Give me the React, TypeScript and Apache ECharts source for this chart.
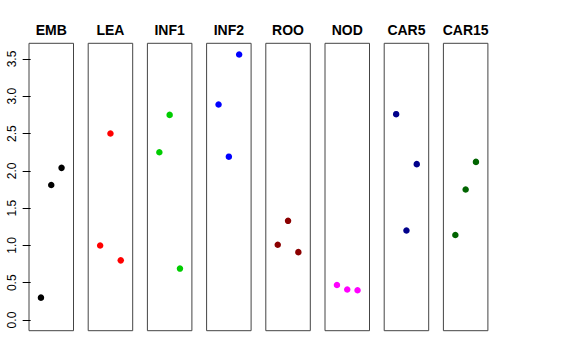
import React, { useEffect, useRef } from "react";
import * as echarts from "echarts";

const panelNames = ["EMB", "LEA", "INF1", "INF2", "ROO", "NOD", "CAR5", "CAR15"];
const xPositions = [1, 2, 3];
const embValues = [0.30, 1.81, 2.04];
const leaValues = [1.00, 2.50, 0.80];
const inf1Values = [2.25, 2.75, 0.69];
const inf2Values = [2.89, 2.19, 3.56];
const rooValues = [1.01, 1.33, 0.91];
const nodValues = [0.47, 0.41, 0.40];
const car5Values = [2.76, 1.20, 2.09];
const car15Values = [1.14, 1.75, 2.12];
const panelValues = [embValues, leaValues, inf1Values, inf2Values, rooValues, nodValues, car5Values, car15Values];
const panelColors = ["#000000", "#FF0000", "#00CD00", "#0000FF", "#8B0000", "#FF00FF", "#00008B", "#006400"];
const yTickValues = [0, 0.5, 1, 1.5, 2, 2.5, 3, 3.5];

export default function App() {
  const ref = useRef<HTMLDivElement>(null);
  useEffect(() => {
    if (!ref.current) return;
    const chart = echarts.init(ref.current, null, { renderer: "svg" });
    const left0 = 29;
    const step = 59.2;
    const pw = 44.5;
    const top = 43.3;
    const ph = 287.4;
    const yMin = -0.143;
    const yMax = 3.71;
    const grids: any[] = [];
    const xAxes: any[] = [];
    const yAxes: any[] = [];
    const series: any[] = [];
    const graphics: any[] = [];
    panelNames.forEach((name, i) => {
      const left = left0 + step * i;
      grids.push({
        left,
        top,
        width: pw,
        height: ph,
        show: true,
        borderColor: "#444",
        borderWidth: 1,
        backgroundColor: "transparent",
      });
      xAxes.push({
        type: "value",
        gridIndex: i,
        min: -0.16,
        max: 4.16,
        show: false,
      });
      yAxes.push({
        type: "value",
        gridIndex: i,
        min: yMin,
        max: yMax,
        show: i === 0,
        axisLine: { show: false },
        splitLine: { show: false },
        axisTick: {
          show: true,
          length: 8,
          lineStyle: { color: "#000", width: 1 },
          customValues: yTickValues,
        },
        axisLabel: {
          show: true,
          rotate: 90,
          margin: 11,
          fontSize: 12,
          fontFamily: "Liberation Sans",
          color: "#000",
          customValues: yTickValues,
          formatter: (v: number) => v.toFixed(1),
        },
      });
      series.push({
        type: "scatter",
        xAxisIndex: i,
        yAxisIndex: i,
        symbol: "circle",
        symbolSize: 6.5,
        itemStyle: { color: panelColors[i], opacity: 1 },
        data: xPositions.map((x, j) => [x, panelValues[i][j]]),
      });
      graphics.push({
        type: "text",
        x: left + pw / 2,
        y: 30,
        style: {
          text: name,
          textAlign: "center",
          textVerticalAlign: "middle",
          font: "bold 14px 'Liberation Sans', Arial, sans-serif",
          fill: "#000",
        },
      });
    });
    chart.setOption({
      animation: false,
      backgroundColor: "#fff",
      grid: grids,
      xAxis: xAxes,
      yAxis: yAxes,
      series,
      graphic: graphics,
    });
    return () => chart.dispose();
  }, []);
  return (
    <div
      ref={ref}
      style={{ position: "absolute", left: 0, top: 0, width: 576, height: 360 }}
    />
  );
}
